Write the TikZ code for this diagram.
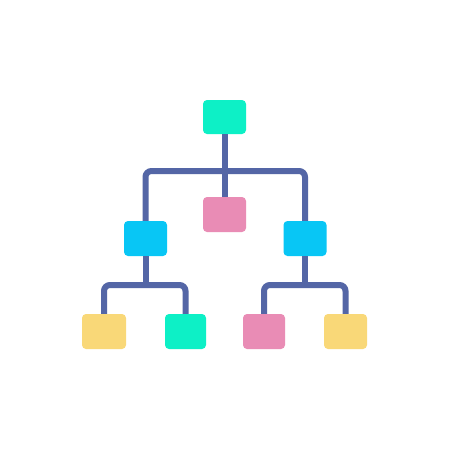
\documentclass[tikz,border=0pt]{standalone}
\begin{document}
\begin{tikzpicture}[x=1pt,y=-1pt,
  box/.style={rectangle,rounded corners=4pt,minimum width=43pt,minimum height=35pt,inner sep=0pt,draw=none},
  link/.style={draw=linec,line width=6pt,rounded corners=6pt}]
\definecolor{linec}{HTML}{5466A6}
\definecolor{tealc}{HTML}{0DF0C6}
\definecolor{pinkc}{HTML}{E98CB5}
\definecolor{bluec}{HTML}{08C6F5}
\definecolor{yellowc}{HTML}{F9D878}
\useasboundingbox[fill=white] (0,0) rectangle (450,450);
\node[box,fill=tealc,minimum height=34pt] (top) at (224.5,117) {};
\node[box,fill=pinkc] (mid) at (224.5,214.5) {};
\node[box,fill=bluec] (lb) at (145.5,238.5) {};
\node[box,fill=bluec] (rb) at (305,238.5) {};
\node[box,fill=yellowc,minimum width=44pt] (b1) at (104,331.5) {};
\node[box,fill=tealc,minimum width=41pt] (b2) at (185.5,331.5) {};
\node[box,fill=pinkc,minimum width=42pt] (b3) at (264,331.5) {};
\node[box,fill=yellowc] (b4) at (345.5,331.5) {};
\coordinate (j1) at (224.5,171);
\coordinate (j2) at (145.5,285);
\coordinate (j3) at (305,285);
\draw[link] (top.south) -- (mid.north);
\draw[link] (lb.north) |- (j1) -| (rb.north);
\draw[link] (lb.south) -- (j2);
\draw[link] (b1.north) |- (j2) -| (b2.north);
\draw[link] (rb.south) -- (j3);
\draw[link] (b3.north) |- (j3) -| (b4.north);
\end{tikzpicture}
\end{document}
